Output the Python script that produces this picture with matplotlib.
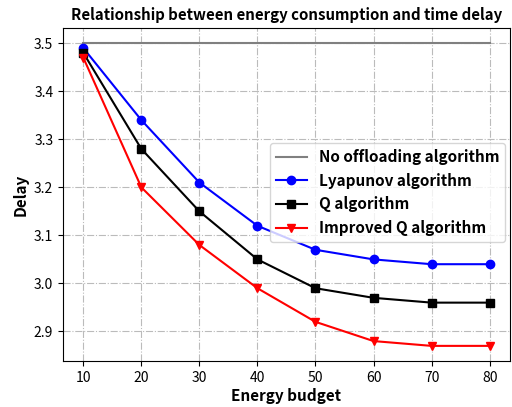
import matplotlib.pyplot as plt

plt.rcParams['font.family'] = ['Noto Sans CJK SC', 'DejaVu Sans']

budget = [10, 20, 30, 40, 50, 60, 70, 80]
no_offload = [3.5, 3.5, 3.5, 3.5, 3.5, 3.5, 3.5, 3.5]
lyapunov = [3.49, 3.34, 3.21, 3.12, 3.07, 3.05, 3.04, 3.04]
q_alg = [3.48, 3.28, 3.15, 3.05, 2.99, 2.97, 2.96, 2.96]
improved_q = [3.47, 3.20, 3.08, 2.99, 2.92, 2.88, 2.87, 2.87]

fig, ax = plt.subplots(figsize=(5.12, 4.07), dpi=100)
ax.plot(budget, no_offload, color='gray', lw=1.5, label='No offloading algorithm')
ax.plot(budget, lyapunov, color='blue', marker='o', ms=6, lw=1.5, label='Lyapunov algorithm')
ax.plot(budget, q_alg, color='black', marker='s', ms=6, lw=1.5, label='Q algorithm')
ax.plot(budget, improved_q, color='red', marker='v', ms=6, lw=1.5, label='Improved Q algorithm')

ax.grid(True, linestyle='-.', color='#bbbbbb', lw=0.8)
ax.set_xticks(budget)
ax.tick_params(labelsize=10)
ax.set_xlabel('Energy budget', fontsize=11, fontweight='bold', labelpad=2)
ax.set_ylabel('Delay', fontsize=11, fontweight='bold')
ax.set_title('Relationship between energy consumption and time delay', fontsize=10.8, fontweight='bold')
ax.legend(loc='upper right', bbox_to_anchor=(0.99, 0.655), borderaxespad=0,
          prop={'size': 11, 'weight': 'bold'})

fig.subplots_adjust(left=0.123, right=0.996, top=0.931, bottom=0.113)
fig.savefig('out.png', dpi=100)
